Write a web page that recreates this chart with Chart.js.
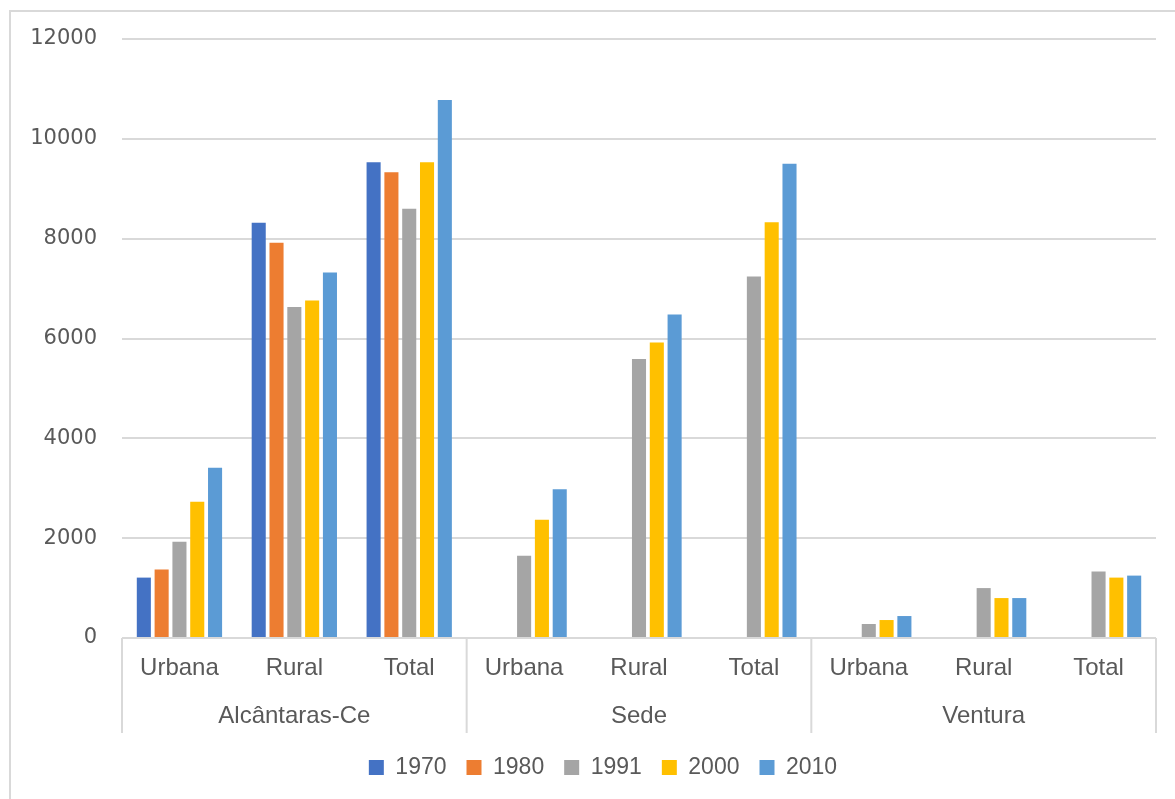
<!DOCTYPE html>
<html>
<head>
<meta charset="utf-8">
<script src="https://cdn.jsdelivr.net/npm/chart.js@4/dist/chart.umd.min.js"></script>
<style>
  html, body { margin: 0; padding: 0; background: #ffffff; }
  #wrap { position: relative; width: 1175px; height: 799px; }
</style>
</head>
<body>
<div id="wrap"><canvas id="chart"></canvas></div>
<script>
// Population by area and census year
const categories = ['Urbana', 'Rural', 'Total', 'Urbana', 'Rural', 'Total', 'Urbana', 'Rural', 'Total'];
const groups = ['Alcântaras-Ce', 'Sede', 'Ventura'];
const years = ['1970', '1980', '1991', '2000', '2010'];
const pop1970 = [1210, 8320, 9530, null, null, null, null, null, null];
const pop1980 = [1370, 7920, 9330, null, null, null, null, null, null];
const pop1991 = [1930, 6630, 8600, 1650, 5590, 7240, 280, 1000, 1330];
const pop2000 = [2730, 6760, 9530, 2370, 5920, 8330, 360, 800, 1210];
const pop2010 = [3410, 7320, 10780, 2980, 6480, 9500, 440, 800, 1250];
const yTickStep = 2000;
const yMax = 12000;

const seriesValues = [pop1970, pop1980, pop1991, pop2000, pop2010];
const seriesColors = ['#4472C4', '#ED7D31', '#A5A5A5', '#FFC000', '#5B9BD5'];
const textColor = '#595959';
const lineColor = '#d9d9d9';

// Outer frame of the chart object
const framePlugin = {
  id: 'frame',
  beforeDraw(chart) {
    const ctx = chart.ctx;
    ctx.save();
    ctx.strokeStyle = lineColor;
    ctx.lineWidth = 2;
    ctx.beginPath();
    ctx.moveTo(10, chart.height);
    ctx.lineTo(10, 11);
    ctx.lineTo(chart.width, 11);
    ctx.stroke();
    ctx.restore();
  }
};

// Centre the legend under the plot rather than the whole canvas
const legendShiftPlugin = {
  id: 'legendShift',
  afterLayout(chart) {
    const lg = chart.legend;
    if (lg) { lg.left += 25; lg.right += 25; }
  }
};

// Second level of the category axis: group names and dividers
const groupAxisPlugin = {
  id: 'groupAxis',
  afterDraw(chart) {
    const x = chart.scales.x;
    const ctx = chart.ctx;
    const per = categories.length / groups.length;
    const lineBottom = x.top + 95;
    ctx.save();
    ctx.strokeStyle = lineColor;
    ctx.lineWidth = 2;
    ctx.fillStyle = textColor;
    ctx.font = '24px "Liberation Sans", Arial, sans-serif';
    ctx.textAlign = 'center';
    ctx.textBaseline = 'middle';
    const edges = [];
    for (let g = 0; g <= groups.length; g++) {
      let px;
      if (g === 0) px = x.left;
      else if (g === groups.length) px = x.right;
      else px = (x.getPixelForValue(g * per - 1) + x.getPixelForValue(g * per)) / 2;
      edges.push(px);
      ctx.beginPath();
      ctx.moveTo(px, x.top);
      ctx.lineTo(px, lineBottom);
      ctx.stroke();
    }
    groups.forEach((name, g) => {
      ctx.fillText(name, (edges[g] + edges[g + 1]) / 2, x.top + 78);
    });
    ctx.restore();
  }
};

new Chart(document.getElementById('chart'), {
  type: 'bar',
  data: {
    labels: categories,
    datasets: years.map((yr, i) => ({
      label: yr,
      data: seriesValues[i],
      backgroundColor: seriesColors[i],
      borderWidth: 0,
      categoryPercentage: 0.775,
      barPercentage: 0.79
    }))
  },
  options: {
    responsive: true,
    maintainAspectRatio: false,
    animation: false,
    layout: { padding: { left: 0, right: 19, top: 39, bottom: 10 } },
    plugins: {
      tooltip: { enabled: false },
      legend: {
        position: 'bottom',
        labels: {
          boxWidth: 15,
          boxHeight: 15,
          padding: 20,
          color: textColor,
          font: { family: '"Liberation Sans", Arial, sans-serif', size: 23 }
        }
      }
    },
    scales: {
      x: {
        grid: { display: false },
        border: { display: false },
        ticks: {
          color: textColor,
          padding: 8,
          maxRotation: 0,
          autoSkip: false,
          font: { family: '"Liberation Sans", Arial, sans-serif', size: 24 }
        },
        afterFit(scale) { scale.height = 98; }
      },
      y: {
        min: 0,
        max: yMax,
        grid: { color: lineColor, lineWidth: 2, drawTicks: false },
        border: { display: false },
        ticks: {
          stepSize: yTickStep,
          padding: 25,
          color: textColor,
          font: { family: '"DejaVu Sans", sans-serif', size: 21 },
          callback: (v) => String(v)
        },
        afterFit(scale) { scale.width = 122; }
      }
    }
  },
  plugins: [framePlugin, legendShiftPlugin, groupAxisPlugin]
});
</script>
</body>
</html>
